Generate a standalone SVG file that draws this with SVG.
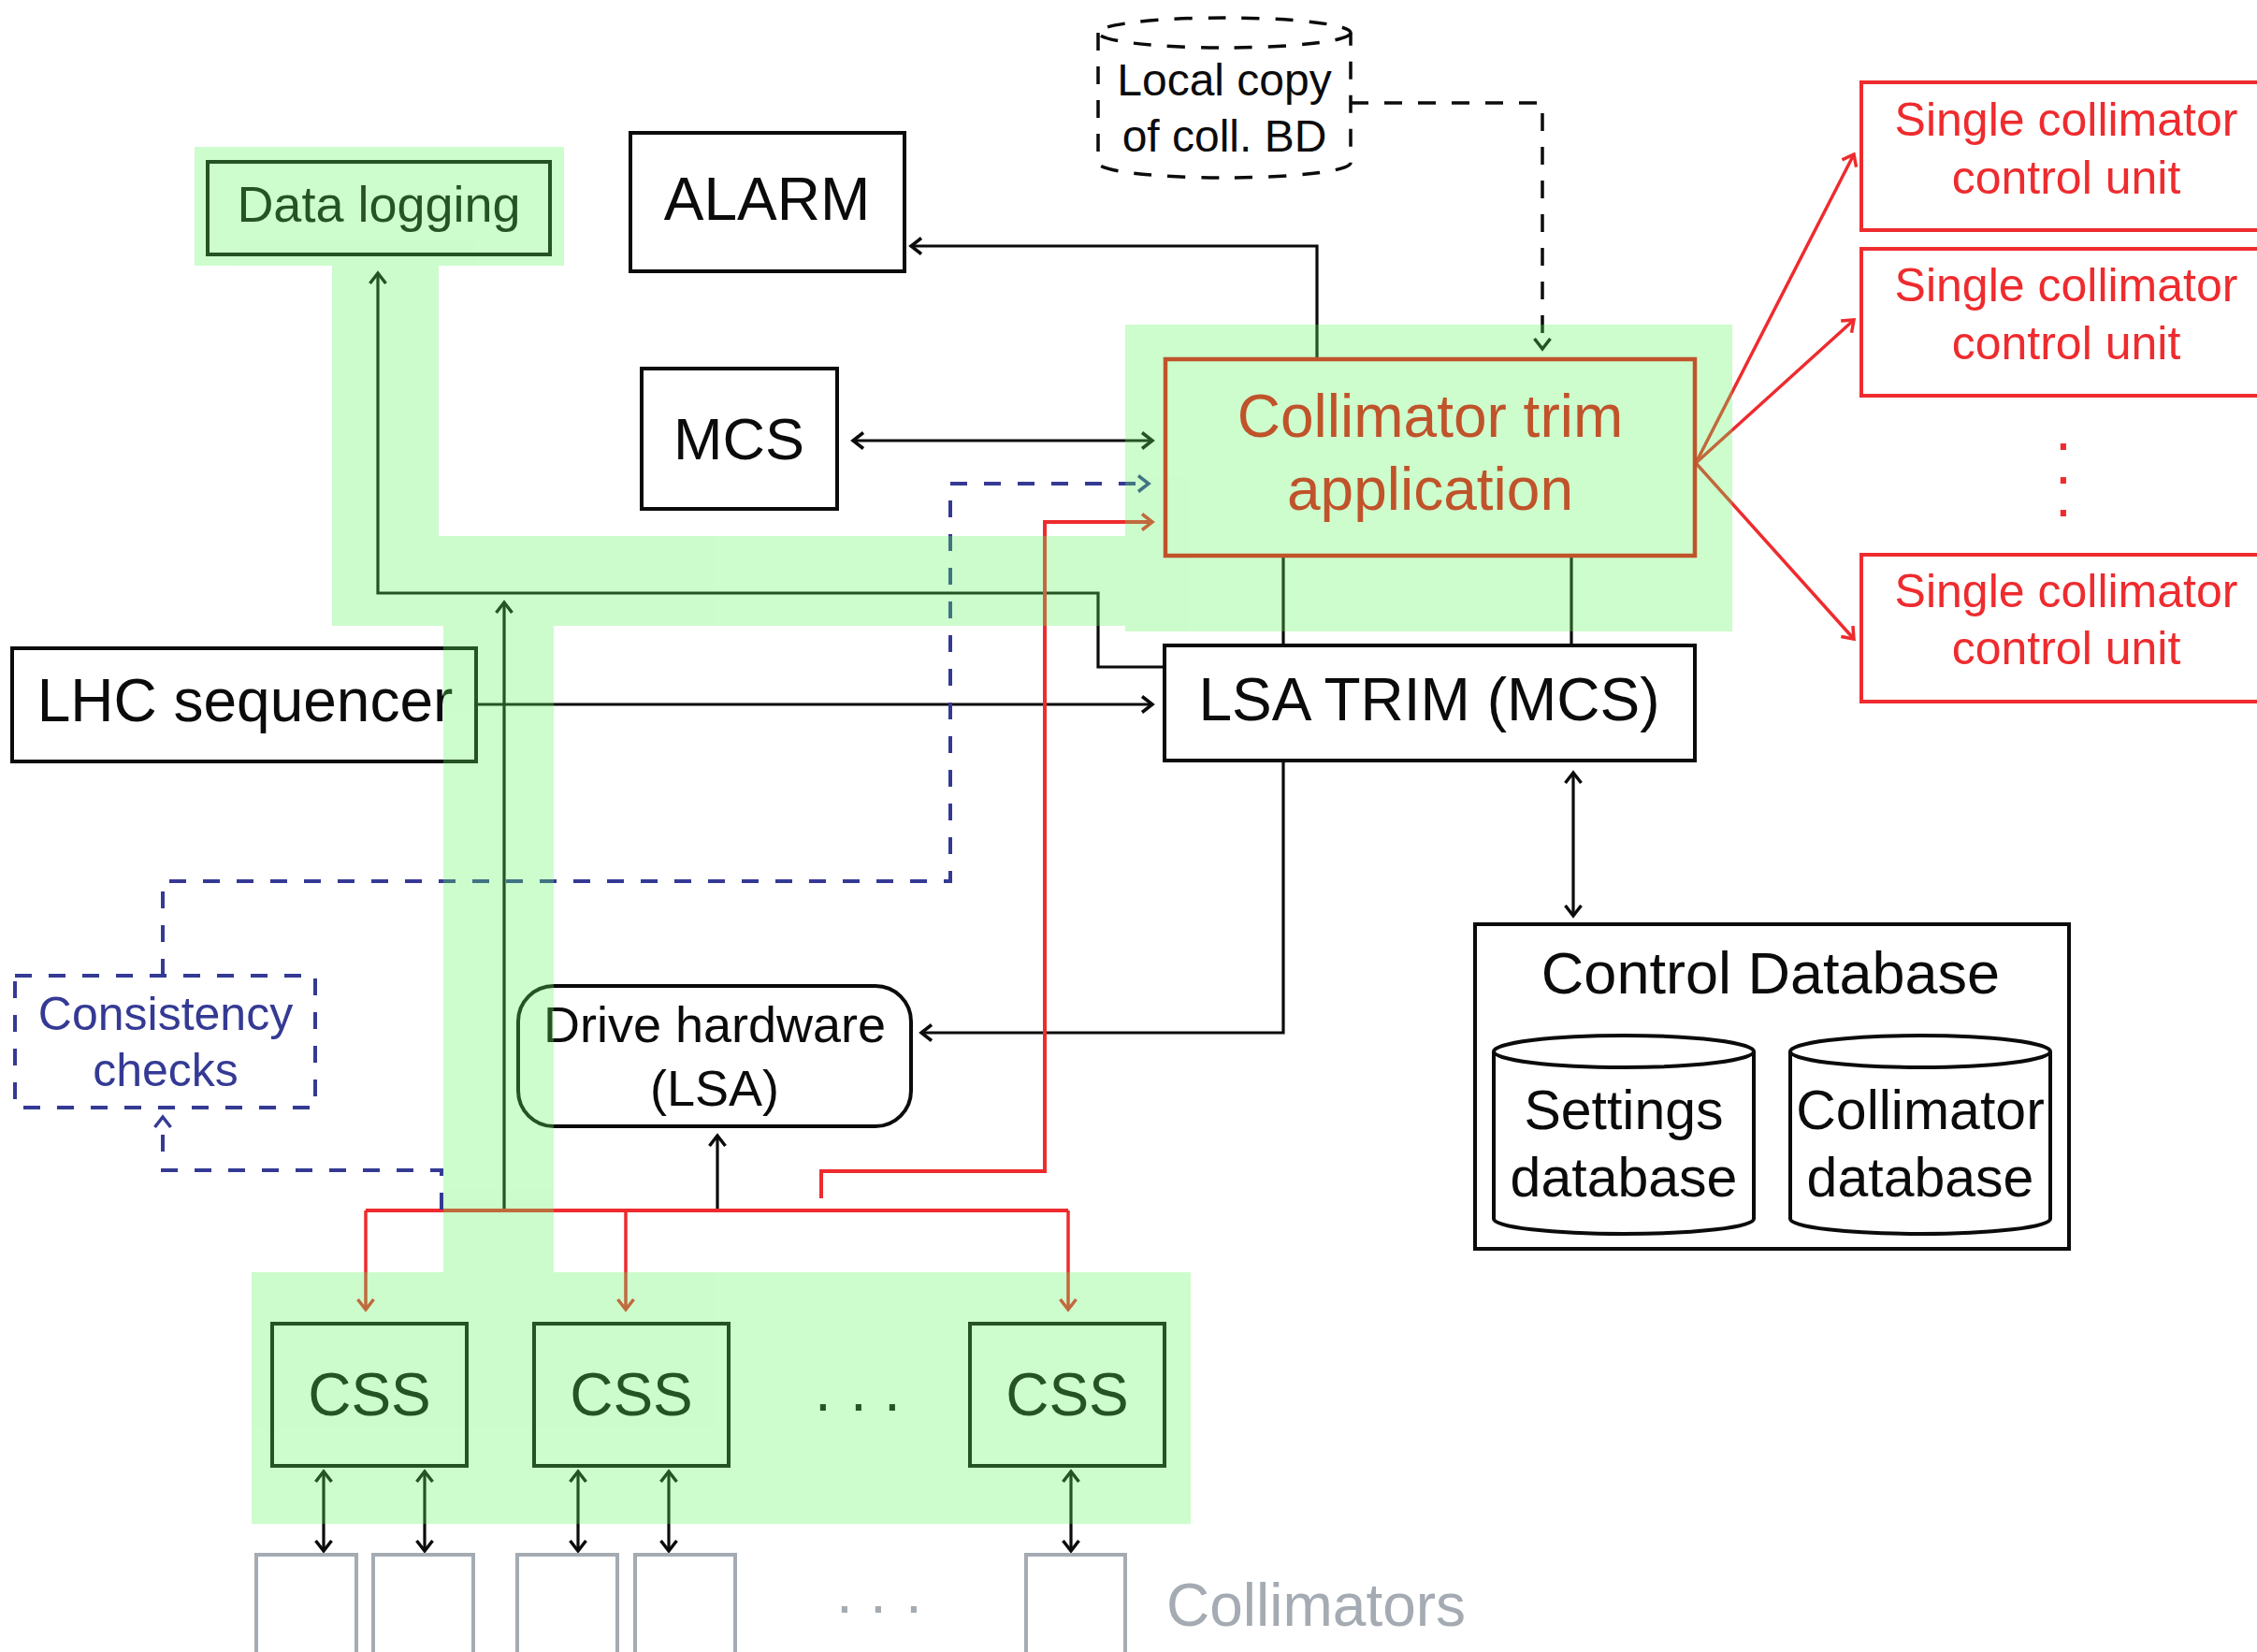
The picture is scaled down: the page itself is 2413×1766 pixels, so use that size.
<svg xmlns="http://www.w3.org/2000/svg" width="2413" height="1766" viewBox="0 0 2413 1766">
  <defs>
    <marker id="ah-k" markerUnits="userSpaceOnUse" markerWidth="30" markerHeight="30" viewBox="-15 -15 30 30" refX="0" refY="0" orient="auto-start-reverse">
      <path d="M-11,-8.5 L0,0 L-11,8.5" fill="none" stroke="#0c0b0b" stroke-width="3.5"/>
    </marker>
    <marker id="ah-r" markerUnits="userSpaceOnUse" markerWidth="30" markerHeight="30" viewBox="-15 -15 30 30" refX="0" refY="0" orient="auto-start-reverse">
      <path d="M-11,-8.5 L0,0 L-11,8.5" fill="none" stroke="#ee2b2e" stroke-width="3.5"/>
    </marker>
    <marker id="ah-b" markerUnits="userSpaceOnUse" markerWidth="30" markerHeight="30" viewBox="-15 -15 30 30" refX="0" refY="0" orient="auto-start-reverse">
      <path d="M-11,-8.5 L0,0 L-11,8.5" fill="none" stroke="#343a94" stroke-width="3.5"/>
    </marker>
  </defs>
  <style>
    text { font-family: "Liberation Sans", Arial, Helvetica, sans-serif; text-anchor: middle; fill: #0c0b0b; }
    .ink { fill: none; stroke: #0c0b0b; stroke-width: 3.2; }
    .ink-dash { fill: none; stroke: #0c0b0b; stroke-width: 3.5; stroke-dasharray: 19 17; }
    .red { fill: none; stroke: #ee2b2e; stroke-width: 4; }
    .red-thin { fill: none; stroke: #ee2b2e; stroke-width: 3.5; }
    .blue-dash { fill: none; stroke: #343a94; stroke-width: 4; stroke-dasharray: 18 18; }
    .box { fill: none; stroke: #0c0b0b; stroke-width: 4; }
    .rbox { fill: none; stroke: #ee2b2e; stroke-width: 4; }
    .gbox { fill: none; stroke: #a5abb2; stroke-width: 4; }
    .t64 { font-size: 64px; }
    .rtext { fill: #ee2b2e; font-size: 50px; }
    .btext { fill: #343a94; font-size: 50px; }
    .gtext { fill: #a5abb2; font-size: 64px; text-anchor: start; }
    .trim { fill: #c0532a; font-size: 64px; }
  </style>

  <!-- connectors -->
  <g id="connectors">
    <path class="ink" d="M1408,383 V263 H974" marker-end="url(#ah-k)"/>
    <path class="ink" d="M912,471 H1232" marker-start="url(#ah-k)" marker-end="url(#ah-k)"/>
    <path class="ink-dash" d="M1444,110 H1649 V373" marker-end="url(#ah-k)"/>
    <path class="ink" d="M510,753 H1232" marker-end="url(#ah-k)"/>
    <path class="ink" d="M1372,595 V690 M1680,595 V690"/>
    <path class="ink" d="M1245,713 H1174 V634 H404 V292" marker-end="url(#ah-k)"/>
    <path class="ink" d="M539,1294 V644" marker-end="url(#ah-k)"/>
    <path class="ink" d="M1372,813 V1104 H985" marker-end="url(#ah-k)"/>
    <path class="ink" d="M767,1294 V1214" marker-end="url(#ah-k)"/>
    <path class="ink" d="M1682,826 V979" marker-start="url(#ah-k)" marker-end="url(#ah-k)"/>
    <path class="ink" d="M346,1573 V1658" marker-start="url(#ah-k)" marker-end="url(#ah-k)"/>
    <path class="ink" d="M454,1573 V1658" marker-start="url(#ah-k)" marker-end="url(#ah-k)"/>
    <path class="ink" d="M618,1573 V1658" marker-start="url(#ah-k)" marker-end="url(#ah-k)"/>
    <path class="ink" d="M715,1573 V1658" marker-start="url(#ah-k)" marker-end="url(#ah-k)"/>
    <path class="ink" d="M1145,1573 V1658" marker-start="url(#ah-k)" marker-end="url(#ah-k)"/>

    <!-- settings distribution bus to the CSS crates -->
    <path class="red" d="M391,1294 H1142"/>
    <path class="red-thin" d="M391,1294 V1400" marker-end="url(#ah-r)"/>
    <path class="red-thin" d="M669,1294 V1400" marker-end="url(#ah-r)"/>
    <path class="red-thin" d="M1142,1294 V1400" marker-end="url(#ah-r)"/>
    <path class="red" d="M878,1281 V1252 H1117 V558 H1232" marker-end="url(#ah-r)"/>

    <!-- fan-out to the single collimator control units -->
    <path class="red-thin" d="M1813,495 L1982,165" marker-end="url(#ah-r)"/>
    <path class="red-thin" d="M1813,495 L1982,342" marker-end="url(#ah-r)"/>
    <path class="red-thin" d="M1813,495 L1982,683" marker-end="url(#ah-r)"/>

    <!-- consistency check loop -->
    <path class="blue-dash" d="M472,1293 V1251 H174 V1194" marker-end="url(#ah-b)"/>
    <path class="blue-dash" d="M174,1043 V942 H1016 V517 H1228" marker-end="url(#ah-b)"/>
  </g>

  <g id="data-logging">
    <rect class="box" x="222" y="173" width="366" height="99"/>
    <text x="405" y="237" style="font-size:54px">Data logging</text>
  </g>

  <g id="alarm">
    <rect class="box" x="674" y="142" width="293" height="148"/>
    <text class="t64" x="820" y="235">ALARM</text>
  </g>

  <g id="mcs">
    <rect class="box" x="686" y="394" width="209" height="150"/>
    <text x="790" y="491" style="font-size:63px">MCS</text>
  </g>

  <g id="local-copy">
    <ellipse cx="1309" cy="35" rx="135" ry="16" class="ink-dash"/>
    <path class="ink-dash" d="M1174,35 V174 A135,16 0 0 0 1444,174 V35"/>
    <text x="1309" y="102" style="font-size:48px">Local copy</text>
    <text x="1309" y="162" style="font-size:48px">of coll. BD</text>
  </g>

  <g id="lsa-trim">
    <rect class="box" x="1245" y="690" width="567" height="123"/>
    <text class="t64" x="1528" y="770">LSA TRIM (MCS)</text>
  </g>

  <g id="lhc-sequencer">
    <rect class="box" x="13" y="693" width="496" height="121"/>
    <text class="t64" x="262" y="771">LHC sequencer</text>
  </g>

  <g id="consistency-checks">
    <rect class="blue-dash" x="16" y="1043" width="321" height="141"/>
    <text class="btext" x="177" y="1101">Consistency</text>
    <text class="btext" x="177" y="1161">checks</text>
  </g>

  <g id="drive-hardware">
    <rect class="box" x="554" y="1054" width="420" height="150" rx="38" ry="38"/>
    <text x="764" y="1114" style="font-size:54px">Drive hardware</text>
    <text x="764" y="1182" style="font-size:54px">(LSA)</text>
  </g>

  <g id="control-database">
    <rect class="box" x="1577" y="988" width="635" height="347"/>
    <text x="1893" y="1062" style="font-size:63px">Control Database</text>
    <g id="settings-db">
      <ellipse class="box" cx="1736" cy="1124" rx="139" ry="17"/>
      <path class="box" d="M1597,1124 V1303 A139,16 0 0 0 1875,1303 V1124"/>
      <text x="1736" y="1207" style="font-size:59px">Settings</text>
      <text x="1736" y="1279" style="font-size:59px">database</text>
    </g>
    <g id="collimator-db">
      <ellipse class="box" cx="2053" cy="1124" rx="139" ry="17"/>
      <path class="box" d="M1914,1124 V1303 A139,16 0 0 0 2192,1303 V1124"/>
      <text x="2053" y="1207" style="font-size:59px">Collimator</text>
      <text x="2053" y="1279" style="font-size:59px">database</text>
    </g>
  </g>

  <g id="control-unit-1">
    <rect class="rbox" x="1990" y="88" width="440" height="158"/>
    <text class="rtext" x="2209" y="145">Single collimator</text>
    <text class="rtext" x="2209" y="207">control unit</text>
  </g>
  <g id="control-unit-2">
    <rect class="rbox" x="1990" y="266" width="440" height="157"/>
    <text class="rtext" x="2209" y="322">Single collimator</text>
    <text class="rtext" x="2209" y="384">control unit</text>
  </g>
  <g id="control-unit-dots">
    <text x="2197 2197 2197" y="481 517 552" style="font-size:64px;fill:#ee2b2e;text-anchor:start">...</text>
  </g>
  <g id="control-unit-n">
    <rect class="rbox" x="1990" y="593" width="440" height="157"/>
    <text class="rtext" x="2209" y="649">Single collimator</text>
    <text class="rtext" x="2209" y="710">control unit</text>
  </g>

  <g id="css-1">
    <rect class="box" x="291" y="1415" width="208" height="152"/>
    <text class="t64" x="395" y="1513">CSS</text>
  </g>
  <g id="css-2">
    <rect class="box" x="571" y="1415" width="208" height="152"/>
    <text class="t64" x="675" y="1513">CSS</text>
  </g>
  <g id="css-dots">
    <text x="871 909 945" y="1508" style="font-size:64px;text-anchor:start">...</text>
  </g>
  <g id="css-n">
    <rect class="box" x="1037" y="1415" width="208" height="152"/>
    <text class="t64" x="1141" y="1513">CSS</text>
  </g>

  <g id="collimators">
    <rect class="gbox" x="274" y="1662" width="107" height="130"/>
    <rect class="gbox" x="399" y="1662" width="107" height="130"/>
    <rect class="gbox" x="553" y="1662" width="107" height="130"/>
    <rect class="gbox" x="679" y="1662" width="107" height="130"/>
    <rect class="gbox" x="1097" y="1662" width="106" height="130"/>
    <text x="894 930 968" y="1724" style="font-size:64px;fill:#a5abb2;text-anchor:start">...</text>
    <text class="gtext" x="1247" y="1738">Collimators</text>
  </g>

  <!-- translucent green highlight of the trim data path -->
  <g id="highlight" opacity="0.31" fill="#5ef55e">
    <rect x="208" y="157" width="395" height="127"/>
    <rect x="355" y="284" width="114" height="385"/>
    <rect x="355" y="573" width="848" height="96"/>
    <rect x="1203" y="347" width="649" height="328"/>
    <rect x="474" y="669" width="118" height="691"/>
    <rect x="269" y="1360" width="1004" height="269"/>
  </g>

  <g id="collimator-trim">
    <rect x="1246" y="384" width="566" height="210" fill="none" stroke="#c0532a" stroke-width="4.5"/>
    <text class="trim" x="1529" y="467">Collimator trim</text>
    <text class="trim" x="1529" y="545">application</text>
  </g>
</svg>
